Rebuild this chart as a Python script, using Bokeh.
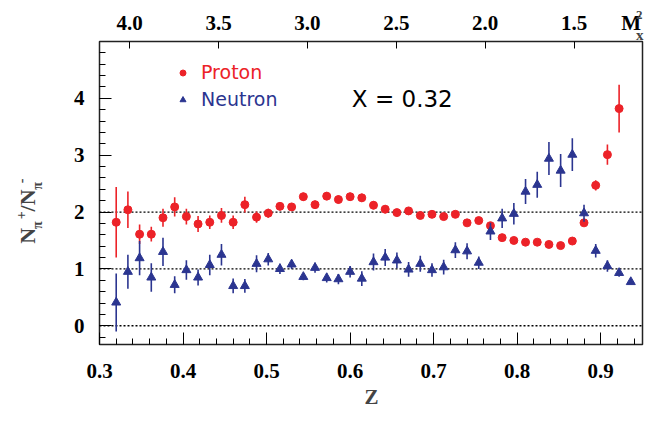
import numpy as np
from bokeh.plotting import figure
from bokeh.models import (Range1d, LinearAxis, FixedTicker, PrintfTickFormatter,
                          Span, Label, Legend, LegendItem, ColumnDataSource)
from bokeh.embed import file_html
from bokeh.resources import INLINE

# ---------------- data ----------------
z_proton = [0.320, 0.334, 0.348, 0.362, 0.376, 0.390, 0.404, 0.418, 0.432, 0.446,
            0.460, 0.474, 0.488, 0.502, 0.516, 0.530, 0.544, 0.558, 0.572, 0.586,
            0.600, 0.614, 0.628, 0.642, 0.656, 0.670, 0.684, 0.698, 0.712, 0.726,
            0.740, 0.754, 0.768, 0.782, 0.796, 0.810, 0.824, 0.838, 0.852, 0.866,
            0.880, 0.894, 0.908, 0.922]
proton = [1.82, 2.04, 1.61, 1.61, 1.90, 2.09, 1.92, 1.79, 1.82, 1.94,
          1.82, 2.13, 1.91, 1.98, 2.10, 2.09, 2.27, 2.13, 2.28, 2.22,
          2.27, 2.25, 2.12, 2.05, 1.99, 2.02, 1.94, 1.96, 1.92, 1.96,
          1.81, 1.85, 1.76, 1.55, 1.50, 1.47, 1.47, 1.43, 1.41, 1.49,
          1.81, 2.47, 3.01, 3.82]
proton_err = [0.62, 0.32, 0.17, 0.13, 0.16, 0.17, 0.14, 0.14, 0.12, 0.13,
              0.12, 0.14, 0.10, 0.08, 0.07, 0.07, 0.07, 0.07, 0.07, 0.07,
              0.07, 0.07, 0.07, 0.07, 0.06, 0.06, 0.06, 0.06, 0.06, 0.06,
              0.05, 0.05, 0.05, 0.04, 0.04, 0.04, 0.04, 0.04, 0.04, 0.04,
              0.05, 0.09, 0.18, 0.42]

z_neutron = [0.320, 0.334, 0.348, 0.362, 0.376, 0.390, 0.404, 0.418, 0.432, 0.446,
             0.460, 0.474, 0.488, 0.502, 0.516, 0.530, 0.544, 0.558, 0.572, 0.586,
             0.600, 0.614, 0.628, 0.642, 0.656, 0.670, 0.684, 0.698, 0.712, 0.726,
             0.740, 0.754, 0.768, 0.782, 0.796, 0.810, 0.824, 0.838, 0.852, 0.866,
             0.880, 0.894, 0.908, 0.922, 0.936]
neutron = [0.41, 0.95, 1.19, 0.85, 1.30, 0.72, 0.98, 0.85, 1.07, 1.25,
           0.70, 0.70, 1.09, 1.17, 1.00, 1.08, 0.86, 1.02, 0.84, 0.82,
           0.95, 0.83, 1.12, 1.20, 1.15, 0.99, 1.09, 0.98, 1.03, 1.33,
           1.31, 1.11, 1.66, 1.89, 1.97, 2.36, 2.48, 2.94, 2.73, 3.01,
           1.98, 1.32, 1.05, 0.93, 0.77]
neutron_err = [0.51, 0.30, 0.30, 0.25, 0.25, 0.15, 0.17, 0.14, 0.18, 0.19,
               0.13, 0.12, 0.15, 0.11, 0.09, 0.08, 0.06, 0.09, 0.08, 0.09,
               0.10, 0.13, 0.15, 0.15, 0.14, 0.13, 0.14, 0.12, 0.13, 0.14,
               0.14, 0.11, 0.15, 0.17, 0.19, 0.22, 0.23, 0.29, 0.29, 0.29,
               0.15, 0.12, 0.10, 0.07, 0.04]

x_ticks = [0.3, 0.4, 0.5, 0.6, 0.7, 0.8, 0.9]
y_ticks = [0, 1, 2, 3, 4]
mx2_ticks = [1.5, 2.0, 2.5, 3.0, 3.5, 4.0]
ref_lines = [0, 1, 2]
x_value_text = "X = 0.32"

# ---------------- ranges ----------------
Z_MIN, Z_MAX = 0.3, 0.95
Y_MIN, Y_MAX = -0.33, 5.0
MX2_A, MX2_B = 5.58, 4.70          # Mx^2 = A - B*z  (top axis)

RED = "#ec2228"
BLUE = "#2b3590"
SERIF = "Liberation Serif"
SANS = "DejaVu Sans"

W, H = 644, 410
p = figure(width=W, height=H,
           x_range=Range1d(Z_MIN, Z_MAX), y_range=Range1d(Y_MIN, Y_MAX),
           output_backend="svg", toolbar_location=None,
           min_border_left=96, min_border_right=2,
           min_border_top=41, min_border_bottom=66)
p.grid.visible = False
p.outline_line_color = "#222222"
p.outline_line_width = 1.5
p.background_fill_color = "white"
p.border_fill_color = "white"

# reference frame (pixels) -> data coords, used only to place texts
FX0, FX1, FY0, FY1 = 98, 651, 45, 352
def ax(px):
    return Z_MIN + (px - FX0) * (Z_MAX - Z_MIN) / (FX1 - FX0)
def ay(py):
    return Y_MAX - (py - FY0) * (Y_MAX - Y_MIN) / (FY1 - FY0)
def amx(px):
    return MX2_A - MX2_B * ax(px)

def style_axis(a, standoff):
    a.axis_line_color = None
    a.major_tick_in = 12
    a.major_tick_out = 0
    a.minor_tick_in = 6
    a.minor_tick_out = 0
    a.major_tick_line_color = "black"
    a.minor_tick_line_color = "black"
    a.major_label_text_font = SERIF
    a.major_label_text_font_style = "bold"
    a.major_label_text_font_size = "21px"
    a.major_label_text_color = "black"
    a.major_label_standoff = standoff

xa = p.xaxis[0]
style_axis(xa, 19)
xa.ticker = FixedTicker(ticks=x_ticks,
                        minor_ticks=[round(0.3 + 0.02 * i, 2) for i in range(33)])
xa.formatter = PrintfTickFormatter(format="%.1f")

ya = p.yaxis[0]
style_axis(ya, 15)
ya.ticker = FixedTicker(ticks=y_ticks,
                        minor_ticks=[round(-0.2 + 0.2 * i, 1) for i in range(26)])
ya.formatter = PrintfTickFormatter(format="%d")

# top axis (Mx^2): labels on the major ticks (plus the axis title "M"),
# tick marks drawn as minor ticks at the labelled values only
p.extra_x_ranges = {"mx2": Range1d(MX2_A - MX2_B * Z_MIN, MX2_A - MX2_B * Z_MAX)}
M_POS = round(amx(639.5), 3)
top = LinearAxis(x_range_name="mx2")
style_axis(top, 7)
top.major_tick_in = 0
top.major_tick_line_color = None
top.minor_tick_in = 7
top.ticker = FixedTicker(ticks=mx2_ticks + [M_POS], minor_ticks=mx2_ticks)
top.formatter = PrintfTickFormatter(format="%.1f")
top.major_label_overrides = {M_POS: "M"}
p.add_layout(top, "above")

# dotted reference lines
for v in ref_lines:
    p.add_layout(Span(location=v, dimension="width", line_color="black",
                      line_width=1.3, line_dash="2 2", level="underlay"))

# ---------------- data glyphs ----------------
src_p = ColumnDataSource(dict(z=z_proton, v=proton,
                              lo=[a - b for a, b in zip(proton, proton_err)],
                              hi=[a + b for a, b in zip(proton, proton_err)]))
src_n = ColumnDataSource(dict(z=z_neutron, v=neutron,
                              lo=[a - b for a, b in zip(neutron, neutron_err)],
                              hi=[a + b for a, b in zip(neutron, neutron_err)]))

p.segment(x0="z", y0="lo", x1="z", y1="hi", source=src_p, line_color=RED, line_width=1.6)
r_p = p.scatter("z", "v", source=src_p, marker="circle", size=8, fill_color=RED, line_color=RED)
p.segment(x0="z", y0="lo", x1="z", y1="hi", source=src_n, line_color=BLUE, line_width=1.6)
r_n = p.scatter("z", "v", source=src_n, marker="triangle", size=9, fill_color=BLUE, line_color=BLUE)

# ---------------- legends ----------------
def make_legend(label, rend, color, loc):
    return Legend(items=[LegendItem(label=label, renderers=[rend])], location=loc,
                  label_text_font=SANS, label_text_font_size="19px",
                  label_text_color=color, glyph_width=15, glyph_height=15,
                  label_standoff=11, padding=0, margin=0, spacing=0,
                  border_line_color=None, background_fill_alpha=0)

p.add_layout(make_legend("Proton", r_p, RED, (76, 261)))
p.add_layout(make_legend("Neutron", r_n, BLUE, (76, 234)))

p.add_layout(Label(x=ax(355), y=ay(103), text=x_value_text, text_font=SANS,
                   text_font_size="23px", text_color="black",
                   text_align="left", text_baseline="alphabetic"))

# ---------------- axis titles (in side panels, outside the frame) ----------------
p.add_layout(Label(x=ax(375), y=ay(405), text="Z", text_font=SERIF,
                   text_font_style="bold", text_font_size="21px",
                   text_align="center", text_baseline="middle"), "below")

NB = "\u00a0"
# y axis title  N_pi^+ / N_pi^-  : main text, subscripts, superscripts
ylab = [("N" + NB * 3 + "/N", 25, 250, "22px"),
        ("\u03c0" + NB * 9 + "\u03c0", 35, 235, "14px"),
        ("+" + NB * 8 + "-", 18.5, 225, "14px")]
for t, px, py, fs in ylab:
    p.add_layout(Label(x=ax(px), y=ay(py), text=t, angle=np.pi / 2,
                       text_font=SERIF, text_font_style="bold", text_font_size=fs,
                       text_align="left", text_baseline="alphabetic"), "left")

# sub/superscript of the top axis title M_x^2
p.add_layout(Label(x=ax(644.5), y=ay(38.3), text="x", text_font=SERIF,
                   text_font_style="bold", text_font_size="15px",
                   text_align="left", text_baseline="alphabetic"), "left")
p.add_layout(Label(x=ax(644.5), y=ay(18.3), text="2", text_font=SERIF,
                   text_font_style="bold", text_font_size="13px",
                   text_align="left", text_baseline="alphabetic"), "left")

open("out.html", "w").write(file_html(p, INLINE))
